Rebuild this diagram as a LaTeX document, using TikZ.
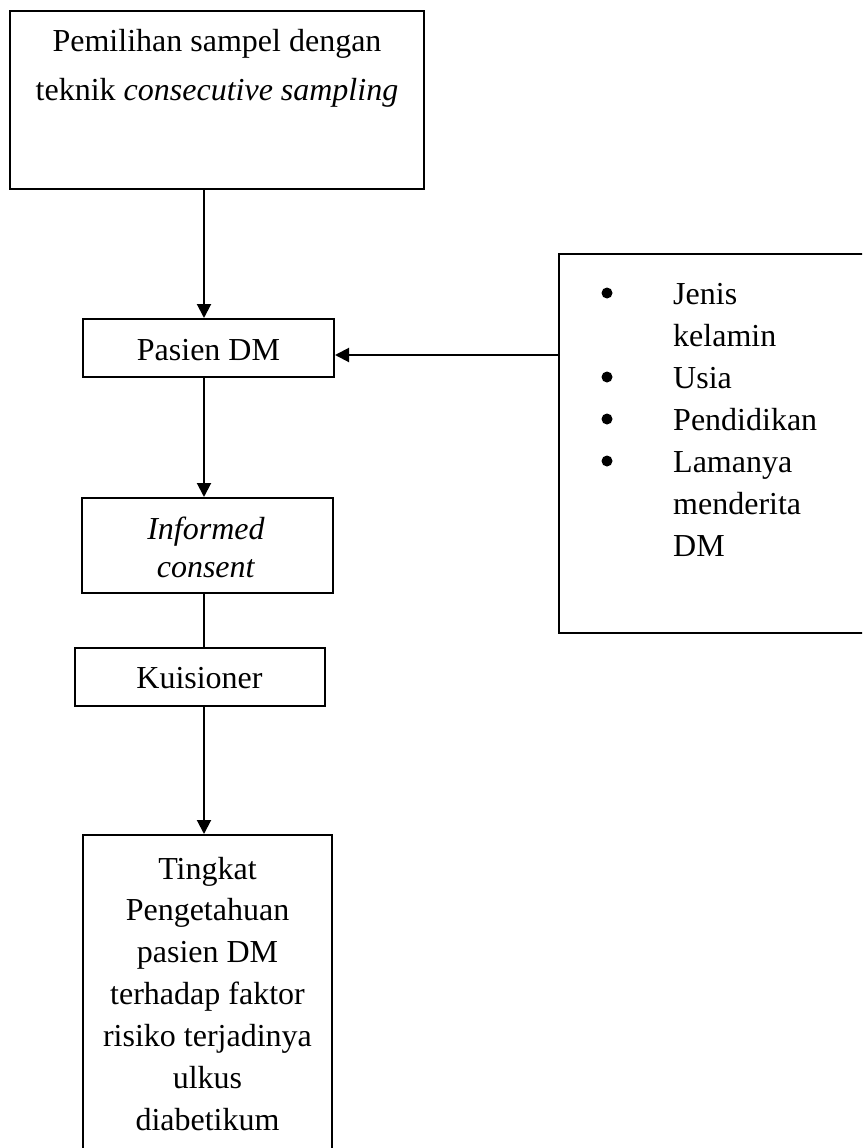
\documentclass[tikz,border=0pt]{standalone}
\usepackage{fontspec}
\setmainfont{Liberation Serif}
\usetikzlibrary{arrows.meta}
\begin{document}
\begin{tikzpicture}[x=1pt,y=-1pt,
  box/.style={draw, line width=2pt, inner sep=0pt, anchor=center},
  txt/.style={anchor=base, inner sep=0pt, font=\fontsize{32}{42}\selectfont},
  ltxt/.style={anchor=base west, inner sep=0pt, font=\fontsize{32}{42}\selectfont},
  bul/.style={circle, fill, inner sep=0pt, minimum size=11pt},
  arr/.style={line width=2pt, -{Triangle[length=14pt,width=14pt]}},
  lnk/.style={line width=2pt}]
\useasboundingbox (0,0) rectangle (862,1148);
\clip (0,0) rectangle (862,1148);

% boxes
\node[box, minimum width=414pt, minimum height=178pt] (top) at (217,100) {};
\node[box, minimum width=251pt, minimum height=58pt] (pasien) at (208.5,348) {};
\node[box, minimum width=251pt, minimum height=95pt] (informed) at (207.5,545.5) {};
\node[box, minimum width=250pt, minimum height=58pt] (kuis) at (200,677) {};
\node[box, minimum width=249pt, minimum height=335pt] (hasil) at (207.5,1002.5) {};
\node[box, minimum width=321pt, minimum height=379pt] (faktor) at (719.5,443.5) {};

% texts
\node[txt] (t1) at (217,52) {Pemilihan sampel dengan};
\node[txt] (t2) at (217,100) {teknik \textit{consecutive sampling}};
\node[txt] (tp) at (208.5,360) {Pasien DM};
\node[txt] (ti1) at (206,539) {\textit{Informed}};
\node[txt] (ti2) at (206,577) {\textit{consent}};
\node[txt] (tk) at (199.5,688) {Kuisioner};
\node[txt] (h1) at (207.5,879) {Tingkat};
\node[txt] (h2) at (207.5,920.5) {Pengetahuan};
\node[txt] (h3) at (207.5,962) {pasien DM};
\node[txt] (h4) at (207.5,1004) {terhadap faktor};
\node[txt] (h5) at (207.5,1046) {risiko terjadinya};
\node[txt] (h6) at (207.5,1088) {ulkus};
\node[txt] (h7) at (207.5,1130) {diabetikum};

\node[bul] (b1) at (607,293) {};
\node[ltxt] (f1) at (673,304) {Jenis};
\node[ltxt] (f2) at (673,346) {kelamin};
\node[bul] (b2) at (607,377) {};
\node[ltxt] (f3) at (673,388) {Usia};
\node[bul] (b3) at (607,419) {};
\node[ltxt] (f4) at (673,430) {Pendidikan};
\node[bul] (b4) at (607,461) {};
\node[ltxt] (f5) at (673,472) {Lamanya};
\node[ltxt] (f6) at (673,514) {menderita};
\node[ltxt] (f7) at (673,556) {DM};

% connectors
\coordinate (cx) at (204,0);
\coordinate (hy) at (0,355);
\draw[arr] (top.south -| cx) -- (pasien.north -| cx);
\draw[arr] (faktor.west |- hy) -- (pasien.east |- hy);
\draw[arr] (pasien.south -| cx) -- (informed.north -| cx);
\draw[lnk] (informed.south -| cx) -- (kuis.north -| cx);
\draw[arr] (kuis.south -| cx) -- (hasil.north -| cx);
\end{tikzpicture}
\end{document}
